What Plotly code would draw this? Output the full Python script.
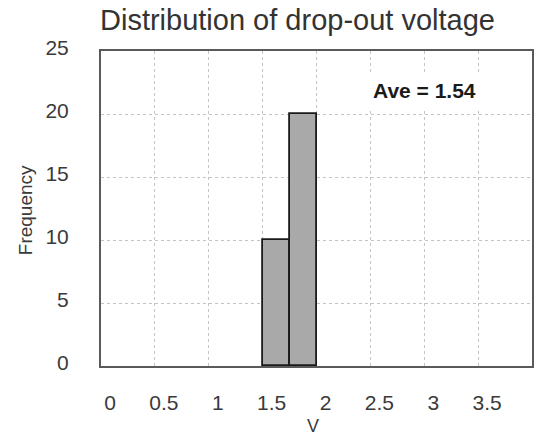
import plotly.graph_objects as go

# ── Histogram data ───────────────────────────────────────────────────────────
bin_centers = [1.625, 1.875]
counts = [10, 20]
bin_width = 0.25
x_ticks = [0, 0.5, 1, 1.5, 2, 2.5, 3, 3.5]
x_tick_labels = ["0", "0.5", "1", "1.5", "2", "2.5", "3", "3.5"]
y_ticks = [0, 5, 10, 15, 20, 25]
average = 1.54

FONT = "Liberation Sans, Arial, sans-serif"
TEXT = "#3a3a3a"

fig = go.Figure(go.Bar(
    x=bin_centers,
    y=counts,
    width=[bin_width] * len(counts),
    marker=dict(color="#a9a9a9", line=dict(color="#1a1a1a", width=1.8)),
    showlegend=False,
))

fig.update_xaxes(
    range=[0, 4],
    tickvals=x_ticks,
    ticktext=x_tick_labels,
    showgrid=True, gridcolor="#c4c4c4", gridwidth=1, griddash="dot",
    showline=True, mirror=True, linecolor="#5a5a5a", linewidth=2,
    zeroline=False, ticks="", automargin=False,
    ticklabelstandoff=17, ticklabelshift=9,
    tickfont=dict(size=21, color=TEXT, family=FONT),
)
fig.update_yaxes(
    range=[0, 25],
    tickvals=y_ticks,
    showgrid=True, gridcolor="#c4c4c4", gridwidth=1, griddash="dot",
    showline=True, mirror=True, linecolor="#5a5a5a", linewidth=2,
    zeroline=False, ticks="", automargin=False,
    ticklabelstandoff=26, ticklabelshift=-3,
    tickfont=dict(size=21, color=TEXT, family=FONT),
)

fig.update_layout(
    width=534, height=437,
    margin=dict(l=101, r=2, t=51, b=71),
    paper_bgcolor="white",
    plot_bgcolor="white",
    font=dict(family=FONT, color=TEXT),
    bargap=0,
    annotations=[
        dict(text="Distribution of drop-out voltage", xref="paper", yref="paper",
             x=0.455, y=1.098, xanchor="center", yanchor="middle",
             showarrow=False, font=dict(size=29, color="#333333")),
        dict(text="V", xref="paper", yref="paper", x=0.492, y=-0.19,
             xanchor="center", yanchor="middle", showarrow=False,
             font=dict(size=18, color=TEXT)),
        dict(text="Frequency", xref="paper", yref="paper", x=-0.176, y=0.495,
             xanchor="center", yanchor="middle", textangle=-90, showarrow=False,
             font=dict(size=19, color=TEXT)),
        dict(text=f"<b>Ave = {average:.2f}</b>", x=3.0, y=21.9,
             xanchor="center", yanchor="middle", showarrow=False,
             bgcolor="white", borderpad=6,
             font=dict(size=21, color="#1a1a1a")),
    ],
)

# page body has a default 8px margin; drop it so the figure fills the window
fig.write_html("out.html",
               config={"displayModeBar": False},
               post_script="document.body.style.margin='0';"
                           "document.body.style.overflow='hidden';")
